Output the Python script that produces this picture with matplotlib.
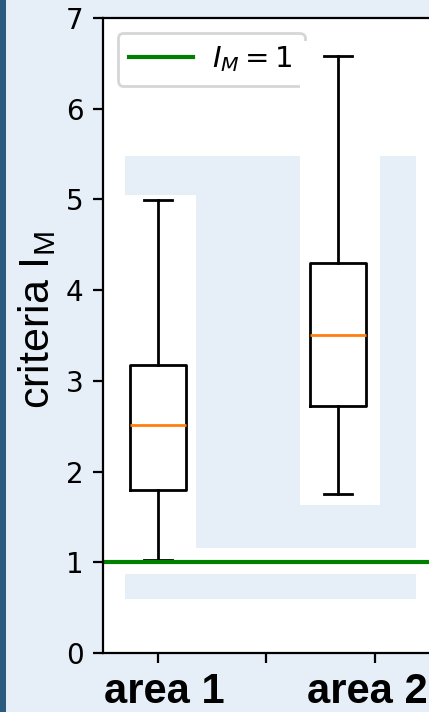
import matplotlib
matplotlib.use("Agg")
import matplotlib.pyplot as plt
from matplotlib.patches import Rectangle
from matplotlib.transforms import ScaledTranslation

# values
labels = ["area 1", "area 2"]
tick_pos = [1.0, 1.5, 2.0]
tick_text = ["area 1", "", "area 2"]
box_pos = [1.0, 1.83]
medians = [2.51, 3.51]
q1 = [1.80, 2.72]
q3 = [3.18, 4.30]
whis_lo = [1.03, 1.75]
whis_hi = [4.99, 6.58]
threshold = 1.0

# colours
bg = "#e6eef8"
strip = "#2b5b7d"

plt.rcParams["mathtext.rm"] = "Liberation Sans"
plt.rcParams["mathtext.it"] = "Liberation Sans:italic"
plt.rcParams["mathtext.bf"] = "Liberation Sans:bold"

W, H = 429, 712
fig = plt.figure(figsize=(W / 200, H / 200), dpi=200)
fig.patch.set_facecolor(bg)
fig.add_artist(Rectangle((0, 0), 6 / W, 1, transform=fig.transFigure,
                         color=strip, lw=0))

ax = fig.add_axes([103 / W, 59 / H, 337 / W, 635 / H])
ax.set_facecolor("white")

# light background shapes (pixel boxes: x0, y0, x1, y1 from the top-left)
def px_rect(x0, y0, x1, y1, color, z=0.5):
    return Rectangle((x0 / W, 1 - y1 / H), (x1 - x0) / W, (y1 - y0) / H,
                     transform=fig.transFigure, color=color, lw=0, zorder=z)

for r in [(125, 156, 300, 195), (196, 195, 300, 548), (300, 505, 380, 548),
          (380, 156, 416, 548), (125, 574, 416, 599)]:
    ax.add_artist(px_rect(*r, bg))

stats = []
for i in range(len(labels)):
    stats.append(dict(med=medians[i], q1=q1[i], q3=q3[i],
                      whislo=whis_lo[i], whishi=whis_hi[i], label=labels[i]))
ax.bxp(stats, positions=box_pos, widths=0.258, showfliers=False,
       manage_ticks=False)

ax.axhline(threshold, color="green", lw=1.5, label=r"$I_M = 1$")
ax.legend(loc="upper left", handlelength=2.2, handletextpad=0.65,
          prop={"math_fontfamily": "dejavusans", "size": 10.5})
# legend box is cut off on its right side in the reference
ax.add_artist(px_rect(300, 41, 314, 92, "white", z=10))

ax.set_xlim(0.7465, 2.3)
ax.set_ylim(0, 7)
ax.set_xticks(tick_pos)
ax.set_xticklabels(tick_text, fontsize=15, fontweight="bold",
                   family="Liberation Sans")
# the labels sit a little off their ticks in the reference
for lab, dx in zip(ax.get_xticklabels(), [6, 0, -8]):
    lab.set_transform(lab.get_transform()
                      + ScaledTranslation(dx / 200, 0, fig.dpi_scale_trans))

ax.set_ylabel(r"criteria I$_\mathrm{M}$", fontsize=15.5,
              family="Liberation Sans", math_fontfamily="custom")
ax.yaxis.set_label_coords(-0.1335, 0.5236)

fig.savefig("out.png", dpi=200, facecolor=bg)
